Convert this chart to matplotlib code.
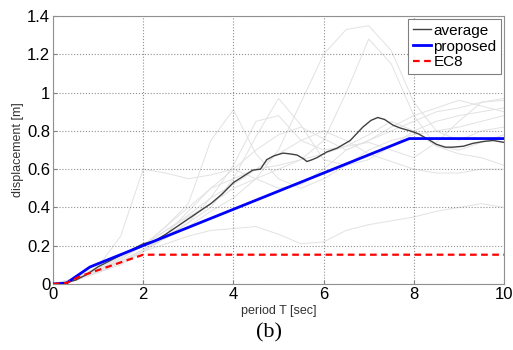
import matplotlib
matplotlib.use("Agg")
import matplotlib.pyplot as plt
from matplotlib.ticker import FormatStrFormatter

plt.rcParams['font.family'] = ['Liberation Sans', 'DejaVu Sans']

# ---------------- data ----------------
T_grid = [0, 0.5, 1, 1.5, 2, 2.5, 3, 3.5, 4, 4.5, 5, 5.5, 6, 6.5, 7, 7.5, 8, 8.5, 9, 9.5, 10]
records = [
    [0, 0.03, 0.09, 0.25, 0.60, 0.58, 0.55, 0.57, 0.60, 0.55, 0.50, 0.52, 0.60, 0.70, 0.75, 0.80, 0.85, 0.90, 0.92, 0.95, 0.97],
    [0, 0.02, 0.08, 0.14, 0.20, 0.30, 0.42, 0.75, 0.91, 0.68, 0.55, 0.50, 0.55, 0.62, 0.70, 0.75, 0.78, 0.80, 0.82, 0.85, 0.88],
    [0, 0.02, 0.07, 0.12, 0.18, 0.25, 0.32, 0.40, 0.55, 0.77, 0.97, 0.83, 0.65, 0.62, 0.65, 0.72, 0.80, 0.85, 0.88, 0.90, 0.92],
    [0, 0.02, 0.06, 0.12, 0.18, 0.24, 0.30, 0.38, 0.45, 0.55, 0.70, 0.95, 1.20, 1.33, 1.35, 1.22, 0.95, 0.80, 0.75, 0.80, 0.82],
    [0, 0.02, 0.07, 0.13, 0.20, 0.28, 0.35, 0.42, 0.50, 0.55, 0.60, 0.65, 0.75, 1.00, 1.28, 1.15, 0.88, 0.72, 0.68, 0.66, 0.62],
    [0, 0.03, 0.08, 0.12, 0.17, 0.21, 0.25, 0.28, 0.29, 0.30, 0.26, 0.21, 0.22, 0.28, 0.31, 0.33, 0.35, 0.38, 0.40, 0.42, 0.40],
    [0, 0.02, 0.07, 0.13, 0.20, 0.28, 0.36, 0.45, 0.52, 0.60, 0.68, 0.75, 0.80, 0.75, 0.68, 0.64, 0.60, 0.58, 0.58, 0.60, 0.60],
    [0, 0.02, 0.06, 0.10, 0.17, 0.26, 0.38, 0.50, 0.60, 0.70, 0.78, 0.82, 0.76, 0.70, 0.75, 0.82, 0.88, 0.92, 0.96, 0.93, 0.90],
    [0, 0.02, 0.06, 0.11, 0.17, 0.24, 0.32, 0.45, 0.62, 0.85, 0.88, 0.75, 0.70, 0.72, 0.78, 0.85, 0.80, 0.72, 0.70, 0.74, 0.78],
    [0, 0.03, 0.08, 0.14, 0.20, 0.30, 0.40, 0.50, 0.55, 0.60, 0.62, 0.65, 0.68, 0.72, 0.74, 0.70, 0.66, 0.74, 0.85, 0.95, 0.96],
]

avg_T = [0, 0.25, 0.5, 0.75, 1.0, 1.25, 1.5, 1.75, 2.0, 2.25, 2.5, 2.75, 3.0, 3.25, 3.5, 3.75, 4.0, 4.2,
         4.43, 4.6, 4.74, 4.9, 5.1, 5.25, 5.41, 5.55, 5.63, 5.75, 5.85, 6.07, 6.3, 6.59, 6.87, 7.05,
         7.2, 7.35, 7.54, 7.7, 7.92, 8.1, 8.29, 8.5, 8.7, 8.87, 9.1, 9.31, 9.55, 9.76, 10]
avg_D = [0, 0.005, 0.02, 0.05, 0.09, 0.12, 0.15, 0.18, 0.21, 0.225, 0.26, 0.30, 0.34, 0.38, 0.42, 0.47, 0.53, 0.56,
         0.595, 0.60, 0.65, 0.67, 0.684, 0.68, 0.674, 0.655, 0.64, 0.65, 0.66, 0.69, 0.71, 0.75, 0.82, 0.855,
         0.87, 0.86, 0.83, 0.815, 0.80, 0.785, 0.76, 0.73, 0.715, 0.715, 0.72, 0.735, 0.745, 0.75, 0.74]

prop_T = [0, 0.3, 0.82, 7.9, 10]
prop_D = [0, 0.005, 0.089, 0.76, 0.76]

ec8_T = [0, 0.3, 0.6, 2.0, 10]
ec8_D = [0, 0.005, 0.04, 0.153, 0.153]

x_ticks = [0, 2, 4, 6, 8, 10]
y_ticks = [0, 0.2, 0.4, 0.6, 0.8, 1.0, 1.2, 1.4]

# ---------------- plot ----------------
fig = plt.figure(figsize=(5.13, 3.5), dpi=100)
ax = fig.add_axes([0.1033, 0.1886, 0.8792, 0.7654])

for rec in records:
    ax.plot(T_grid, rec, color="#e2e2e2", lw=0.7, zorder=1)

ax.plot(avg_T, avg_D, color="#404040", lw=1.0, label="average", zorder=3)
ax.plot(prop_T, prop_D, color="#0000ff", lw=2.0, label="proposed", zorder=4)
ax.plot(ec8_T, ec8_D, color="#ff0000", lw=1.6, ls=(0, (3, 2)), label="EC8", zorder=5)

ax.set_xlim(0, 10)
ax.set_ylim(0, 1.4)
ax.set_xticks(x_ticks)
ax.set_yticks(y_ticks)
ax.yaxis.set_major_formatter(FormatStrFormatter("%g"))
ax.tick_params(direction="in", labelsize=12, length=3, color="#808080", pad=2)
ax.grid(True, ls=":", color="#909090", lw=0.8)
for s in ax.spines.values():
    s.set_color("#909090")

ax.set_xlabel("period T [sec]", fontsize=9, color="#333333", labelpad=2)
ax.set_ylabel("displacement [m]", fontsize=9, color="#333333", labelpad=2)

leg = ax.legend(loc="upper right", fontsize=11, handlelength=1.2, handletextpad=0.15,
                borderpad=0.3, labelspacing=0.12, borderaxespad=0.2, fancybox=False,
                framealpha=1)
leg.get_frame().set_edgecolor("#808080")
leg.get_frame().set_linewidth(0.8)

fig.text(0.525, 0.048, "(b)", fontsize=16, family="Liberation Serif", ha="center", va="center")

fig.savefig("out.png", dpi=100)
